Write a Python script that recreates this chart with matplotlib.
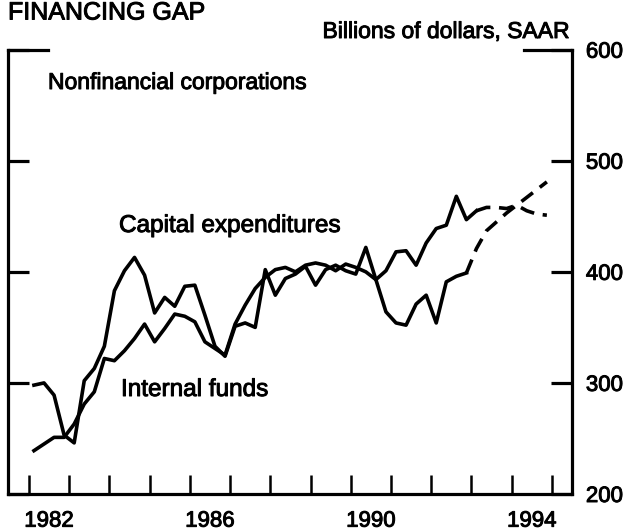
import numpy as np
import matplotlib
matplotlib.use("Agg")
import matplotlib.pyplot as plt
import matplotlib.patheffects as pe

plt.rcParams['font.family'] = ['Liberation Sans', 'DejaVu Sans']

# ---------------- data (quarterly, 1982Q1 - 1994Q4, billions of dollars SAAR) --------------
start_year = 1982
capex = [298, 300, 289, 253, 246, 302, 313, 333, 383, 401, 413, 397,
         363, 377, 369, 387, 388, 361, 333, 324, 351, 354, 350, 402,
         379, 394, 398, 405, 388, 402, 406, 401, 398, 422, 393, 364,
         354, 352, 371, 379, 354, 391, 396, 399, 421, 437, 445, 453,
         460, 467, 474, 481]
funds = [239, 245, 251, 251, 263, 281, 292, 322, 320, 329, 340, 353,
         337, 349, 362, 360, 355, 337, 331, 325, 353, 370, 385, 395,
         402, 404, 400, 406, 408, 406, 401, 407, 404, 400, 393, 401,
         418, 419, 406, 426, 439, 442, 468, 447, 455, 458, 458, 457,
         460, 455, 452, 451]
capex_last_actual = 43   # index of last actual (solid) quarter
funds_last_actual = 44

year_ticks = list(range(1982, 1996))
year_labels = ['1982', '1986', '1990', '1994']
y_ticks = [200, 300, 400, 500, 600]

# ---------------- figure --------------
W, H = 630, 532
fig = plt.figure(figsize=(W / 100, H / 100), dpi=100)
ax_l, ax_r, ax_t, ax_b = 8, 572, 49.7, 494
ax = fig.add_axes([ax_l / W, 1 - ax_b / H, (ax_r - ax_l) / W, (ax_b - ax_t) / H])

heavy = [pe.withStroke(linewidth=0.7, foreground='black')]

t = start_year + (np.arange(len(capex)) + 0.5) / 4.0
lw = 2.6
ax.plot(t[:capex_last_actual + 1], capex[:capex_last_actual + 1], color='black', lw=lw)
ax.plot(t[capex_last_actual:], capex[capex_last_actual:], color='black', lw=lw,
        dashes=(4.0, 2.4))
ax.plot(t[:funds_last_actual + 1], funds[:funds_last_actual + 1], color='black', lw=lw)
ax.plot(t[funds_last_actual:], funds[funds_last_actual:], color='black', lw=lw,
        dashes=(4.0, 2.4))

ax.set_xlim(1981.48, 1995.5)
ax.set_ylim(200, 600)

for s in ['left', 'right', 'bottom']:
    ax.spines[s].set_linewidth(2.3)
ax.spines['top'].set_visible(False)

# top (600) bracket segments
axw = ax_r - ax_l
ax.axhline(600, xmin=0, xmax=40 / axw, color='black', lw=2.3, clip_on=False)
ax.axhline(600, xmin=1 - 48 / axw, xmax=1, color='black', lw=2.3, clip_on=False)

# y axis
ax.set_yticks(y_ticks)
ax.set_yticklabels([str(v) for v in y_ticks])
ax.tick_params(axis='y', which='major', direction='in', length=15, width=2.3,
               left=True, right=True, labelleft=False, labelright=True,
               pad=10, labelsize=16)

# x axis
ax.set_xticks(year_ticks)
ax.set_xticklabels([''] * len(year_ticks))
ax.set_xticks([int(y) + 0.5 for y in year_labels], minor=True)
ax.set_xticklabels(year_labels, minor=True)
ax.tick_params(axis='x', which='major', direction='in', length=13.5, width=1.8,
               top=False, bottom=True)
ax.tick_params(axis='x', which='minor', length=0, pad=12, labelsize=16)

for lab in ax.get_yticklabels() + ax.get_xticklabels(minor=True):
    lab.set_path_effects(heavy)

# texts
def ftext(xp, yp, s, **kw):
    fig.text(xp / W, 1 - yp / H, s, va='baseline', path_effects=heavy, **kw)

ftext(8, 19.5, 'FINANCING GAP', fontsize=18, ha='left')
ftext(569, 38, 'Billions of dollars, SAAR', fontsize=16.5, ha='right')
ftext(48, 89, 'Nonfinancial corporations', fontsize=16.5, ha='left')
ftext(119, 232, 'Capital expenditures', fontsize=17.5, ha='left')
ftext(121, 396, 'Internal funds', fontsize=17.5, ha='left')

fig.savefig('out.png', dpi=100)
